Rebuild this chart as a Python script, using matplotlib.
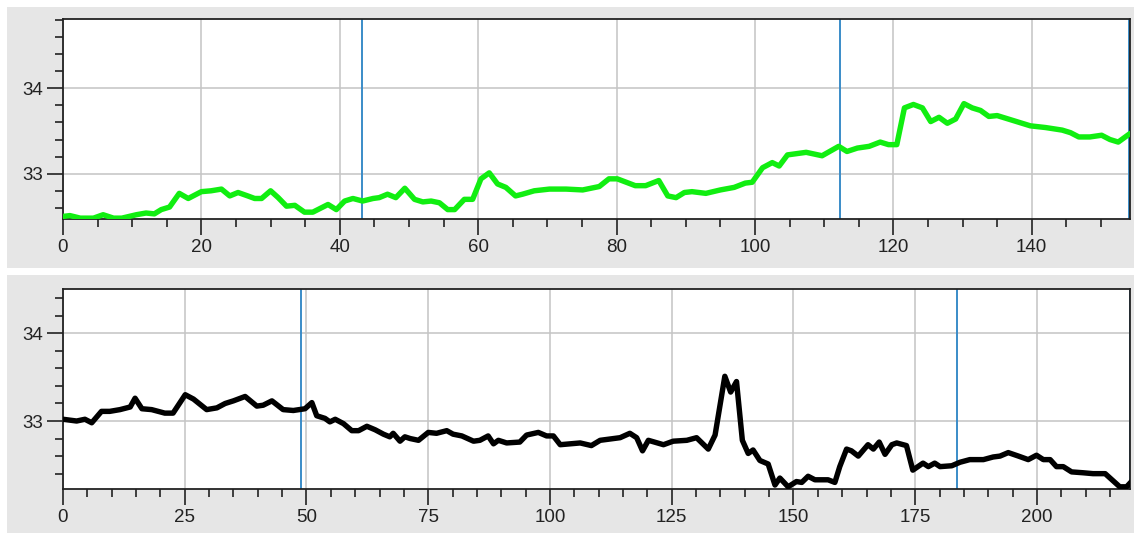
import matplotlib
matplotlib.use("Agg")
import matplotlib.pyplot as plt
from matplotlib.patches import Rectangle
from matplotlib.ticker import MultipleLocator

plt.rcParams['font.family'] = ['Liberation Sans', 'DejaVu Sans']

# ---- top series (green) ----
top_x = [0, 1, 2.5, 4.4, 5.8, 7.3, 8.5, 10.6, 12, 13.2, 14.2, 15.4, 16.8, 18.1, 20, 21.4, 22.9,
         24.1, 25.3, 26.7, 27.7, 28.7, 30, 31.1, 32.3, 33.5, 34.9, 36.1, 38.3, 39.5, 40.7, 41.9,
         43.3, 44.8, 45.7, 46.9, 48.1, 49.4, 50.8, 52, 53.2, 54.4, 55.6, 56.6, 58, 59.2, 60.4,
         61.6, 62.8, 64, 65.4, 66.4, 68.1, 70.3, 72.7, 75.1, 77.5, 78.9, 80.1, 82.7, 84.2, 86.1,
         87.4, 88.6, 89.8, 90.9, 92.9, 95, 97, 98.6, 99.6, 101.1, 102.5, 103.5, 104.7, 107.4,
         109.7, 112.1, 113.3, 114.8, 116.5, 118.1, 119.3, 120.5, 121.6, 122.9, 124.2, 125.4,
         126.6, 127.8, 129, 130.2, 131.4, 132.6, 133.8, 135, 137.4, 139.8, 142, 144.4, 145.6,
         146.8, 148.4, 150.1, 151.3, 152.5, 154.2]
top_y = [32.50, 32.51, 32.48, 32.48, 32.52, 32.48, 32.48, 32.52, 32.54, 32.53, 32.58, 32.61, 32.77,
         32.71, 32.79, 32.80, 32.82, 32.74, 32.78, 32.74, 32.71, 32.71, 32.80, 32.72, 32.62, 32.63,
         32.55, 32.55, 32.64, 32.58, 32.68, 32.71, 32.68, 32.71, 32.72, 32.76, 32.72, 32.83, 32.70,
         32.67, 32.68, 32.66, 32.58, 32.58, 32.70, 32.70, 32.94, 33.01, 32.88, 32.84, 32.74, 32.76,
         32.80, 32.82, 32.82, 32.81, 32.85, 32.94, 32.94, 32.86, 32.86, 32.92, 32.74, 32.72, 32.78,
         32.79, 32.77, 32.81, 32.84, 32.89, 32.90, 33.07, 33.13, 33.09, 33.22, 33.25, 33.21, 33.32,
         33.26, 33.30, 33.32, 33.37, 33.34, 33.34, 33.77, 33.81, 33.77, 33.61, 33.66, 33.59, 33.64,
         33.82, 33.77, 33.74, 33.67, 33.68, 33.62, 33.56, 33.54, 33.51, 33.48, 33.43, 33.43, 33.45,
         33.40, 33.37, 33.47]
top_vlines = [43.2, 112.3, 154.0]

# ---- bottom series (black) ----
bot_x = [0, 2.8, 4.5, 5.9, 7.9, 9.6, 11.7, 13.8, 14.8, 16.2, 18.2, 20.9, 22.6, 25.1, 26.8, 29.5,
         31.6, 33.3, 35, 37.4, 39.8, 41.1, 42.9, 45.2, 47.3, 49.7, 51.1, 52.1, 53.8, 54.8, 55.9,
         57.6, 59.3, 60.7, 62.4, 64.1, 65.8, 67.1, 67.8, 69.2, 70.2, 71.3, 73, 75, 76.7, 78.8,
         80.1, 81.9, 84.3, 85.6, 87.3, 88.4, 89.4, 91.1, 93.8, 95.2, 97.6, 99.3, 100.7, 102.1,
         106.2, 108.5, 110.3, 114.4, 116.4, 117.8, 119, 120.2, 123.3, 125.3, 128.1, 130.1, 132.5,
         133.9, 135.9, 137.1, 138.3, 139.5, 140.7, 141.7, 143.1, 144.8, 146.2, 147.2, 148.9,
         150.6, 151.7, 153, 154.4, 157.1, 158.5, 159.5, 160.9, 161.9, 163.3, 165.3, 166.4, 167.6,
         168.8, 170.2, 171.2, 173.2, 174.5, 176.6, 177.7, 179, 180.1, 182.5, 184.2, 186.2, 189,
         191, 192.4, 194.1, 196.2, 198.2, 199.9, 201.3, 202.7, 204, 205.4, 207.1, 209.5, 211.5,
         214, 217, 218.4, 219.4]
bot_y = [33.02, 33.00, 33.02, 32.98, 33.11, 33.11, 33.13, 33.16, 33.26, 33.14, 33.13, 33.09, 33.09,
         33.30, 33.25, 33.13, 33.15, 33.20, 33.23, 33.28, 33.17, 33.18, 33.23, 33.13, 33.12, 33.14,
         33.21, 33.06, 33.03, 32.99, 33.02, 32.97, 32.89, 32.89, 32.94, 32.90, 32.85, 32.82, 32.86,
         32.77, 32.82, 32.80, 32.78, 32.87, 32.86, 32.89, 32.85, 32.83, 32.77, 32.78, 32.83, 32.74,
         32.78, 32.75, 32.76, 32.84, 32.87, 32.83, 32.83, 32.73, 32.75, 32.72, 32.78, 32.81, 32.86,
         32.81, 32.66, 32.78, 32.73, 32.77, 32.78, 32.81, 32.68, 32.84, 33.51, 33.33, 33.45, 32.78,
         32.63, 32.67, 32.55, 32.51, 32.27, 32.35, 32.25, 32.31, 32.30, 32.37, 32.33, 32.33, 32.30,
         32.48, 32.68, 32.66, 32.60, 32.73, 32.68, 32.76, 32.62, 32.73, 32.75, 32.72, 32.44, 32.52,
         32.48, 32.52, 32.48, 32.49, 32.53, 32.56, 32.56, 32.59, 32.60, 32.64, 32.60, 32.56, 32.61,
         32.56, 32.56, 32.48, 32.48, 32.42, 32.41, 32.40, 32.40, 32.25, 32.25, 32.31]
bot_vlines = [48.9, 183.6, 219.0]

W, H = 1134, 533
fig = plt.figure(figsize=(W / 100, H / 100), dpi=100)
fig.patch.set_facecolor('white')

# gray panel backgrounds
fig.patches.append(Rectangle((7 / W, 1 - 268 / H), 1 - 7 / W, (268 - 7) / H,
                             transform=fig.transFigure, facecolor='#e6e6e6', edgecolor='none', zorder=-10))
fig.patches.append(Rectangle((7 / W, 0), 1 - 7 / W, 1 - 275 / H,
                             transform=fig.transFigure, facecolor='#e6e6e6', edgecolor='none', zorder=-10))

left = 63 / W
width = (1130 - 63) / W
ax1 = fig.add_axes([left, 1 - 219 / H, width, 200 / H])
ax2 = fig.add_axes([left, 1 - 489 / H, width, 200 / H])


def style(ax, xmaj, xlim, ylim):
    ax.set_facecolor('white')
    ax.set_xlim(*xlim)
    ax.set_ylim(*ylim)
    ax.xaxis.set_major_locator(MultipleLocator(xmaj))
    ax.xaxis.set_minor_locator(MultipleLocator(5))
    ax.yaxis.set_major_locator(MultipleLocator(1))
    ax.yaxis.set_minor_locator(MultipleLocator(0.2))
    ax.grid(True, which='major', color='#c4c4c4', linewidth=1.1, zorder=0)
    ax.tick_params(axis='both', which='major', length=11.5, width=1.2, color='#222222',
                   labelsize=13.5, labelcolor='#222222', pad=3)
    ax.tick_params(axis='both', which='minor', length=6, width=1.2, color='#222222')
    for s in ax.spines.values():
        s.set_color('#222222')
        s.set_linewidth(1.3)
    ax.set_axisbelow(True)


style(ax1, 20, (0, 154.2), (32.47, 34.81))
style(ax2, 25, (0, 219.1), (32.225, 34.505))

for v in top_vlines:
    ax1.axvline(v, color='#3a8cc8', linewidth=1.4, zorder=2)
for v in bot_vlines:
    ax2.axvline(v, color='#3a8cc8', linewidth=1.4, zorder=2)

ax1.plot(top_x, top_y, color='#11ee11', linewidth=3.9, solid_joinstyle='round',
         solid_capstyle='round', zorder=3, clip_on=True)
ax2.plot(bot_x, bot_y, color='#000000', linewidth=3.9, solid_joinstyle='round',
         solid_capstyle='round', zorder=3, clip_on=True)

fig.savefig('out.png', dpi=100)
